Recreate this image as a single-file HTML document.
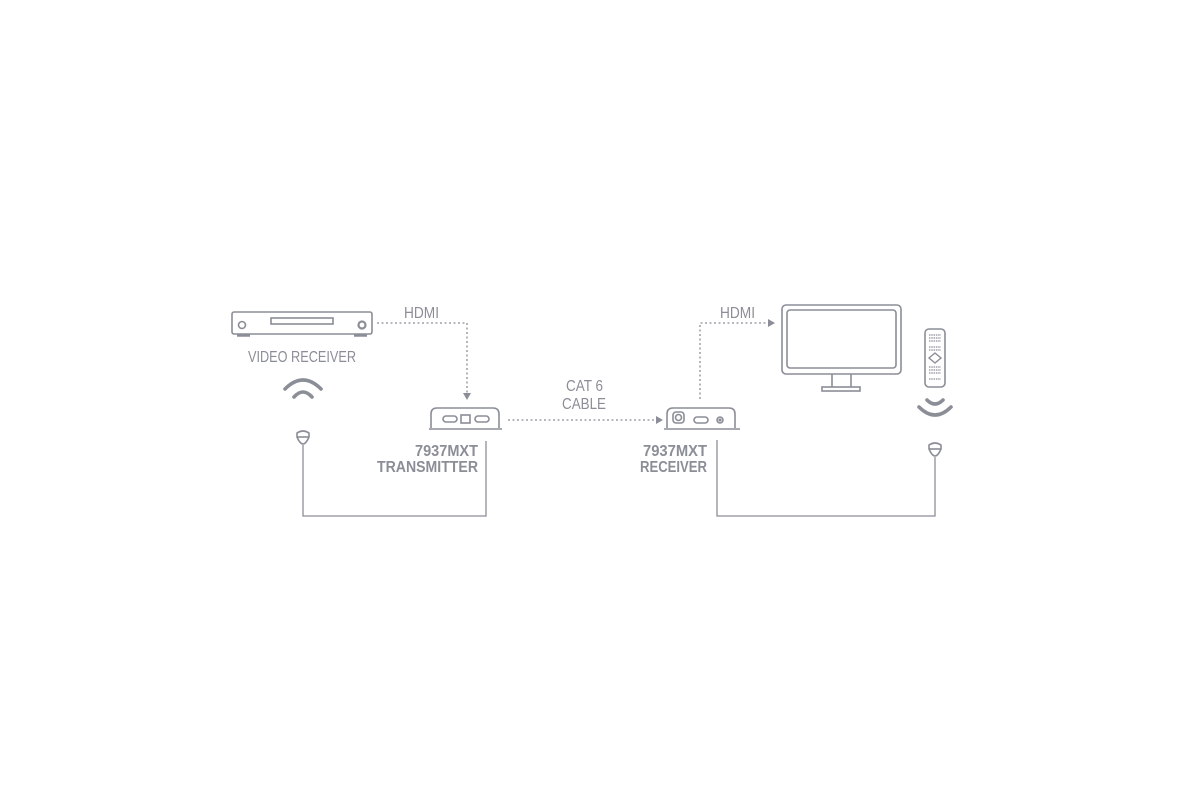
<!DOCTYPE html>
<html><head><style>
html,body{margin:0;padding:0;background:#fff;}
svg{display:block;}
text{font-family:"Liberation Sans",sans-serif;fill:#8b8e97;}
</style></head><body>
<svg width="1200" height="800" viewBox="0 0 1200 800" xmlns="http://www.w3.org/2000/svg">
<g fill="none" stroke="#8b8e97" stroke-width="1.6">
  <rect x="232" y="312" width="140" height="22" rx="2"/>
  <circle cx="242" cy="325" r="3.5"/>
  <rect x="271" y="318" width="62" height="6"/>
  <circle cx="362" cy="325" r="3.5" stroke-width="2.2"/>
  <line x1="237" y1="335.5" x2="250" y2="335.5" stroke-width="2.5"/>
  <line x1="354" y1="335.5" x2="367" y2="335.5" stroke-width="2.5"/>
  <path d="M377 323 H467 V393" stroke-dasharray="2 2.5" stroke-width="1.3"/>
</g>
<!-- wifi -->
<path d="M285 389 Q303 371 321 389" fill="none" stroke="#8b8e97" stroke-width="3.6" stroke-linecap="round"/>
<path d="M294 397 Q303 387 312 397" fill="none" stroke="#8b8e97" stroke-width="3.6" stroke-linecap="round"/>
<!-- waves right -->
<path d="M927 400 Q935 408 943 400" fill="none" stroke="#8b8e97" stroke-width="3.6" stroke-linecap="round"/>
<path d="M919 407 Q935 423 951 407" fill="none" stroke="#8b8e97" stroke-width="3.6" stroke-linecap="round"/>
<g fill="none" stroke="#8b8e97" stroke-width="1.6">
  <path d="M297 433 Q303 429 309 433 L309 437 Q306 444 303 444 Q300 444 297 437 Z"/>
  <line x1="297" y1="437" x2="309" y2="437"/>
  <path d="M303 445 V516 H486 V441" stroke-width="1.3"/>
  <path d="M431 428 V414 Q431 408 437 408 H493 Q499 408 499 414 V428"/>
  <line x1="429" y1="429" x2="502" y2="429"/>
  <rect x="443" y="416" width="14" height="6" rx="3"/>
  <rect x="461" y="415" width="9" height="8"/>
  <rect x="475" y="416" width="14" height="6" rx="3"/>
  <line x1="508" y1="420" x2="656" y2="420" stroke-dasharray="2 2.5" stroke-width="1.3"/>
  <path d="M667 428 V414 Q667 408 673 408 H729 Q735 408 735 414 V428"/>
  <line x1="664" y1="429" x2="740" y2="429"/>
  <rect x="673" y="412" width="11" height="11" rx="3"/>
  <circle cx="678.5" cy="417.5" r="3"/>
  <rect x="694" y="417" width="14" height="6" rx="3"/>
  <circle cx="720" cy="420" r="3"/>
  <circle cx="720" cy="420" r="0.8"/>
  <path d="M717 440 V516 H935 V457" stroke-width="1.3"/>
  <path d="M700 399 V323 H768" stroke-dasharray="2 2.5" stroke-width="1.3"/>
  <rect x="782" y="305" width="119" height="69" rx="4"/>
  <rect x="787" y="310" width="109" height="58" rx="3"/>
  <path d="M832 374 V387 M851 374 V387"/>
  <rect x="822" y="387" width="38" height="4"/>
  <rect x="925" y="329" width="20" height="58" rx="4"/>
  <g stroke-width="1.2" stroke-dasharray="1.5 0.8">
    <line x1="929" y1="335" x2="941" y2="335"/>
    <line x1="929" y1="338" x2="941" y2="338"/>
    <line x1="929" y1="341" x2="941" y2="341"/>
    <line x1="929" y1="347" x2="941" y2="347"/>
    <line x1="929" y1="350" x2="941" y2="350"/>
    <line x1="929" y1="367" x2="941" y2="367"/>
    <line x1="929" y1="370" x2="941" y2="370"/>
    <line x1="929" y1="373" x2="941" y2="373"/>
    <line x1="929" y1="379" x2="941" y2="379"/>
  </g>
  <path d="M935 353 L941 358 L935 363 L929 358 Z" stroke-width="1.4"/>
  <path d="M929 445 Q935 441 941 445 L941 449 Q938 456 935 456 Q932 456 929 449 Z"/>
  <line x1="929" y1="449" x2="941" y2="449"/>
</g>
<g fill="#8b8e97">
  <path d="M463 393 L471 393 L467 400 Z"/>
  <path d="M656 416 L663 420 L656 424 Z"/>
  <path d="M768 319 L775 323 L768 327 Z"/>
</g>
<g font-size="16">
<text x="404" y="318" textLength="35" lengthAdjust="spacingAndGlyphs">HDMI</text>
<text x="720" y="318" textLength="35" lengthAdjust="spacingAndGlyphs">HDMI</text>
<text x="248" y="362" textLength="108" lengthAdjust="spacingAndGlyphs">VIDEO RECEIVER</text>
<text x="566" y="391" textLength="37" lengthAdjust="spacingAndGlyphs">CAT 6</text>
<text x="562" y="409" textLength="44" lengthAdjust="spacingAndGlyphs">CABLE</text>
</g>
<g font-weight="bold" font-size="16">
<text x="415" y="456" textLength="63" lengthAdjust="spacingAndGlyphs">7937MXT</text>
<text x="377" y="472" textLength="101" lengthAdjust="spacingAndGlyphs">TRANSMITTER</text>
<text x="643" y="456" textLength="64" lengthAdjust="spacingAndGlyphs">7937MXT</text>
<text x="640" y="472" textLength="67" lengthAdjust="spacingAndGlyphs">RECEIVER</text>
</g>
</svg>
</body></html>
